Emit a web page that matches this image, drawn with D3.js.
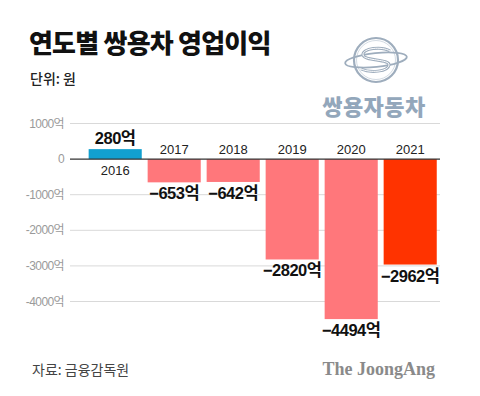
<!DOCTYPE html>
<html>
<head>
<meta charset="utf-8">
<script src="https://cdn.jsdelivr.net/npm/d3@7"></script>
<style>
  body { margin: 0; background: #fff; }
  svg { display: block; }
  text { font-family: 'Liberation Sans', Arial, 'Noto Sans CJK KR', sans-serif; }
  .kr { font-family: 'Noto Sans CJK KR', sans-serif; }
</style>
</head>
<body>
<div id="chart"></div>
<script>
// data
const years = ['2016', '2017', '2018', '2019', '2020', '2021'];
const profits = [280, -653, -642, -2820, -4494, -2962]; // 억원
const yTicks = [1000, 0, -1000, -2000, -3000, -4000];

const width = 480, height = 396;

const svg = d3.select('#chart').append('svg')
  .attr('width', width)
  .attr('height', height);

/* ---------- title ---------- */
svg.append('text')
  .attr('class', 'kr')
  .attr('x', 29).attr('y', 53)
  .attr('font-size', 26).attr('font-weight', 900)
  .attr('fill', '#111')
  .attr('letter-spacing', -0.8)
  .text('연도별 쌍용차 영업이익');

svg.append('text')
  .attr('class', 'kr')
  .attr('x', 30).attr('y', 84)
  .attr('font-size', 14).attr('font-weight', 500)
  .attr('fill', '#222')
  .text('단위: 원');

/* ---------- logo ---------- */
const logo = svg.append('g').attr('transform', 'translate(376,60)');
const silver = '#9eadbd';
logo.append('circle').attr('r', 22).attr('fill', 'none')
  .attr('stroke', silver).attr('stroke-width', 2.2);
logo.append('circle').attr('r', 19.5).attr('fill', 'none')
  .attr('stroke', '#d3dbe3').attr('stroke-width', 1);
logo.append('ellipse').attr('rx', 31).attr('ry', 7)
  .attr('transform', 'rotate(-6)')
  .attr('fill', 'none').attr('stroke', silver).attr('stroke-width', 1.8);
logo.append('path')
  .attr('d', 'M14,-9 C6,-14 -14,-12 -13,-5 C-12,1 14,-1 13,5 C12,12 -6,13 -15,9')
  .attr('fill', 'none').attr('stroke', silver).attr('stroke-width', 3);
logo.append('path')
  .attr('d', 'M14,-9 C6,-14 -14,-12 -13,-5 C-12,1 14,-1 13,5 C12,12 -6,13 -15,9')
  .attr('fill', 'none').attr('stroke', '#fff').attr('stroke-width', 1);

svg.append('text')
  .attr('class', 'kr')
  .attr('x', 374).attr('y', 115)
  .attr('text-anchor', 'middle')
  .attr('font-size', 22).attr('font-weight', 900)
  .attr('fill', '#93a7bb')
  .attr('letter-spacing', 0.5)
  .text('쌍용자동차');

/* ---------- scales ---------- */
const x = d3.scaleBand()
  .domain(years)
  .range([85.7, 439.7])
  .paddingInner(0.1)
  .paddingOuter(0.05);

const y = d3.scaleLinear()
  .domain([1000, -4000])
  .range([123.5, 301.5]);

/* ---------- grid + axis labels ---------- */
const grid = svg.append('g');
grid.selectAll('line').data(yTicks.filter(d => d !== 0)).enter()
  .append('line')
  .attr('x1', 70).attr('x2', 440)
  .attr('y1', d => y(d)).attr('y2', d => y(d))
  .attr('stroke', '#d9d9d9').attr('stroke-width', 1);

grid.selectAll('text').data(yTicks).enter()
  .append('text')
  .attr('x', 64)
  .attr('y', d => y(d) + 4)
  .attr('text-anchor', 'end')
  .attr('font-size', 12)
  .attr('fill', '#9a9a9a')
  .attr('letter-spacing', -0.6)
  .text(d => d === 0 ? '0' : d + '억');

/* ---------- bars ---------- */
const colorOf = (d, i) => d > 0 ? '#12a0cf' : (i === years.length - 1 ? '#ff3300' : '#ff777b');

svg.append('g').selectAll('rect').data(profits).enter()
  .append('rect')
  .attr('x', (d, i) => x(years[i]))
  .attr('width', x.bandwidth())
  .attr('y', d => Math.min(y(d), y(0)))
  .attr('height', d => Math.abs(y(d) - y(0)))
  .attr('fill', colorOf);

// zero line
svg.append('line')
  .attr('x1', 70).attr('x2', 440)
  .attr('y1', y(0)).attr('y2', y(0))
  .attr('stroke', '#333').attr('stroke-width', 1.3);

/* ---------- year labels ---------- */
svg.append('g').selectAll('text').data(profits).enter()
  .append('text')
  .attr('x', (d, i) => x(years[i]) + x.bandwidth() / 2)
  .attr('y', d => d > 0 ? y(0) + 16 : y(0) - 5)
  .attr('text-anchor', 'middle')
  .attr('font-size', 13)
  .attr('fill', '#222')
  .text((d, i) => years[i]);

/* ---------- value labels ---------- */
svg.append('g').selectAll('text').data(profits).enter()
  .append('text')
  .attr('x', (d, i) => x(years[i]) + x.bandwidth() / 2)
  .attr('y', d => d > 0 ? y(d) - 5 : y(d) + 17)
  .attr('text-anchor', 'middle')
  .attr('font-size', 16.5)
  .attr('font-weight', 'bold')
  .attr('fill', '#111')
  .attr('letter-spacing', -0.5)
  .text(d => (d < 0 ? '−' + Math.abs(d) : d) + '억');

/* ---------- footer ---------- */
svg.append('text')
  .attr('class', 'kr')
  .attr('x', 32).attr('y', 375)
  .attr('font-size', 14)
  .attr('fill', '#444')
  .text('자료: 금융감독원');

svg.append('text')
  .attr('x', 435).attr('y', 375)
  .attr('text-anchor', 'end')
  .style('font-family', "'Liberation Serif', 'DejaVu Serif', serif")
  .attr('font-size', 18)
  .attr('font-weight', 'bold')
  .attr('fill', '#8a8a8a')
  .text('The JoongAng');
</script>
</body>
</html>
